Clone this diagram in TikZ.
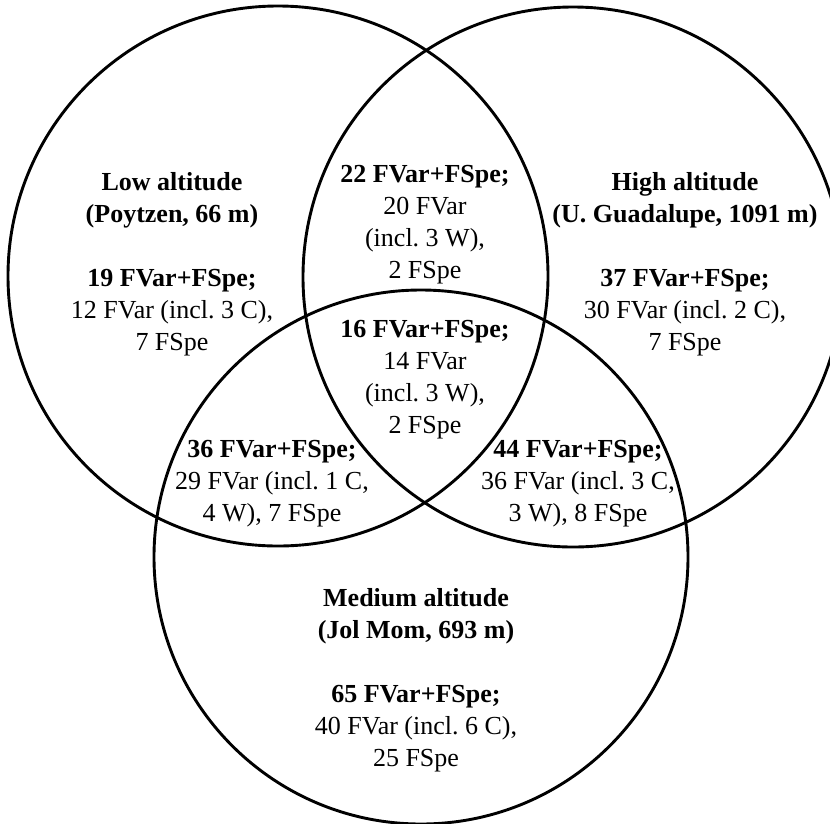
\documentclass[tikz,border=0pt]{standalone}
\usepackage{fontspec}
\setmainfont{Liberation Serif}
\frenchspacing
\begin{document}
\begin{tikzpicture}[x=1pt,y=-1pt,
  ring/.style={draw=black,line width=2.9pt},
  lbl/.style={align=center,inner sep=0pt,font={\fontsize{26}{32}\selectfont}}]
\path[use as bounding box] (0,0) rectangle (830,823);
\clip (0,0) rectangle (830,823);
\fill[white] (0,0) rectangle (830,823);
\draw[ring] (278,276) circle[radius=270];
\draw[ring] (573,277) circle[radius=270];
\draw[ring] (421,557) circle[radius=267];
\node[lbl] (low) at (172,264) {\textbf{Low altitude}\\\textbf{(Poytzen, 66 m)}\\[32pt]\textbf{19 FVar+FSpe;}\\12 FVar (incl. 3 C),\\7 FSpe};
\node[lbl] (high) at (685,264) {\textbf{High altitude}\\\textbf{(U. Guadalupe, 1091 m)}\\[32pt]\textbf{37 FVar+FSpe;}\\30 FVar (incl. 2 C),\\7 FSpe};
\node[lbl] (lh) at (425,225) {\textbf{22 FVar+FSpe;}\\20 FVar\\(incl. 3 W),\\2 FSpe};
\node[lbl] (all) at (425,380) {\textbf{16 FVar+FSpe;}\\14 FVar\\(incl. 3 W),\\2 FSpe};
\node[lbl] (lm) at (272,484) {\textbf{36 FVar+FSpe;}\\29 FVar (incl. 1 C,\\4 W), 7 FSpe};
\node[lbl] (hm) at (578,484) {\textbf{44 FVar+FSpe;}\\36 FVar (incl. 3 C,\\3 W), 8 FSpe};
\node[lbl] (med) at (416,680) {\textbf{Medium altitude}\\\textbf{(Jol Mom, 693 m)}\\[32pt]\textbf{65 FVar+FSpe;}\\40 FVar (incl. 6 C),\\25 FSpe};
\end{tikzpicture}
\end{document}
